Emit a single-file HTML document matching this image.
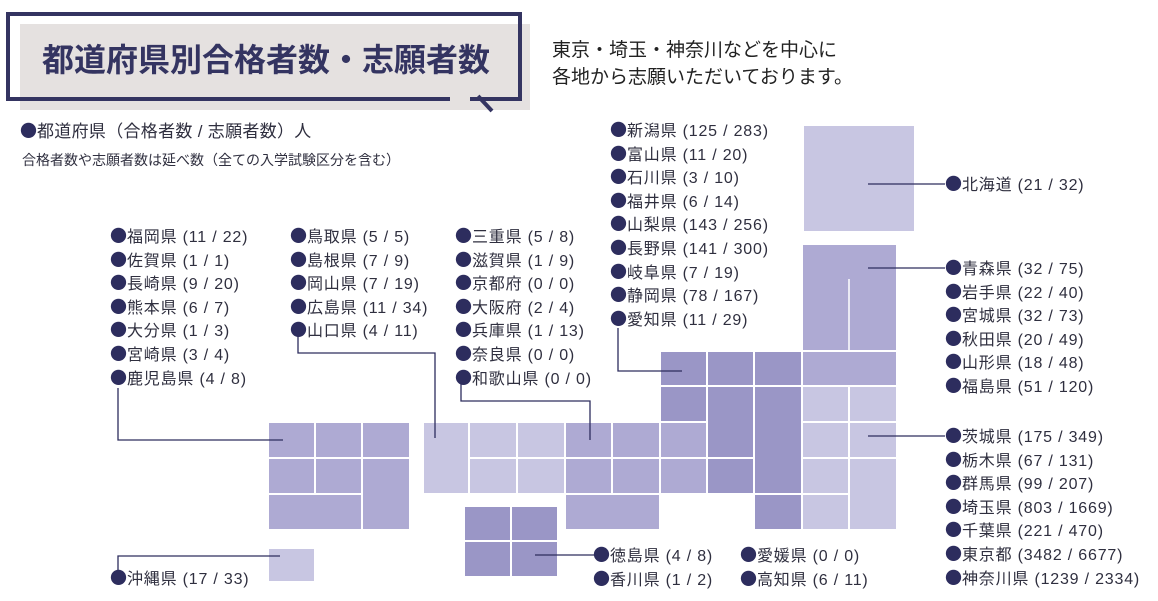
<!DOCTYPE html>
<html><head><meta charset="utf-8"><style>
html,body{margin:0;padding:0;background:#fff;}
body{width:1158px;height:601px;position:relative;overflow:hidden;font-family:"Liberation Sans","Noto Sans CJK JP",sans-serif;color:#2f2f3f;}
.t{position:absolute;white-space:nowrap;font-size:16px;line-height:20px;letter-spacing:0.8px;}
.t b{color:#2d2d5e;font-weight:normal;font-family:"Noto Sans CJK JP",sans-serif;font-size:17px;line-height:1px;margin-right:0px;letter-spacing:0;}
svg{position:absolute;left:0;top:0;}
</style></head><body>
<svg width="1158" height="601">
<rect x="20" y="24" width="510" height="86" fill="#e5e1e0"/>
<path d="M470,99 L520,99 L520,14 L8,14 L8,99 L450,99" fill="none" stroke="#343461" stroke-width="4"/>
<line x1="478" y1="96" x2="492" y2="111" stroke="#343461" stroke-width="4"/>
<g stroke="#fff" stroke-width="2">
<rect x="803" y="125" width="112" height="107" fill="#c8c6e2"/>
<g fill="#aeaad3">
<rect x="268" y="422" width="47" height="36"/><rect x="315" y="422" width="47" height="36"/><rect x="362" y="422" width="48" height="36"/>
<rect x="268" y="458" width="47" height="36"/><rect x="315" y="458" width="47" height="36"/><rect x="362" y="458" width="48" height="72"/>
<rect x="268" y="494" width="94" height="36"/>
</g>
<rect x="268" y="548" width="47" height="34" fill="#c8c6e2"/>
<g fill="#c8c6e2">
<rect x="423" y="422" width="46" height="72"/><rect x="469" y="422" width="48" height="36"/><rect x="517" y="422" width="48" height="36"/>
<rect x="469" y="458" width="48" height="36"/><rect x="517" y="458" width="48" height="36"/>
</g>
<g fill="#9a96c6">
<rect x="464" y="506" width="47" height="35"/><rect x="511" y="506" width="47" height="35"/>
<rect x="464" y="541" width="47" height="36"/><rect x="511" y="541" width="47" height="36"/>
</g>
<g fill="#aeaad3">
<rect x="565" y="422" width="47" height="36"/><rect x="612" y="422" width="48" height="36"/>
<rect x="565" y="458" width="47" height="36"/><rect x="612" y="458" width="48" height="36"/>
<rect x="565" y="494" width="95" height="36"/>
<rect x="660" y="422" width="47" height="36"/><rect x="660" y="458" width="47" height="36"/>
</g>
<g fill="#9a96c6">
<rect x="660" y="351" width="47" height="35"/><rect x="707" y="351" width="47" height="35"/><rect x="754" y="351" width="48" height="35"/>
<rect x="660" y="386" width="47" height="36"/>
<rect x="707" y="386" width="47" height="72"/><rect x="754" y="386" width="48" height="108"/>
<rect x="707" y="458" width="47" height="36"/>
<rect x="754" y="494" width="48" height="36"/>
</g>
<g fill="#aeaad3">
<rect x="802" y="244" width="95" height="107"/>
<rect x="802" y="351" width="95" height="35"/>
</g>
<g fill="#c8c6e2">
<rect x="802" y="386" width="47" height="36"/><rect x="849" y="386" width="48" height="36"/>
<rect x="802" y="422" width="47" height="36"/><rect x="849" y="422" width="48" height="36"/>
<rect x="802" y="458" width="47" height="36"/><rect x="849" y="458" width="48" height="72"/>
<rect x="802" y="494" width="47" height="36"/>
</g>
</g>
<line x1="849" y1="279" x2="849" y2="351" stroke="#fff" stroke-width="1.5"/>
<g fill="none" stroke="#2d2d5e" stroke-width="1.3">
<path d="M118,388 V440 H283"/>
<path d="M298,335 V353 H435 V438"/>
<path d="M461,383 V401 H590 V440"/>
<path d="M618,328 V371 H682"/>
<path d="M868,184 H945"/><path d="M868,268 H945"/><path d="M868,436 H945"/>
<path d="M535,555 H595"/>
<path d="M118,575 V556 H280"/>
</g>
</svg>
<div class="t" style="left:42px;top:38px;font-size:32px;line-height:44px;font-weight:bold;color:#343461;letter-spacing:0;">都道府県別合格者数・志願者数</div>
<div class="t" style="left:552px;top:37px;font-size:19px;line-height:27px;color:#222;letter-spacing:0;">東京・埼玉・神奈川などを中心に<br>各地から志願いただいております。</div>
<div class="t" style="left:20px;top:121px;font-size:17px;line-height:22px;letter-spacing:0.3px;"><b>●</b>都道府県（合格者数 / 志願者数）人</div>
<div class="t" style="left:22px;top:150px;font-size:14px;line-height:20px;letter-spacing:0;">合格者数や志願者数は延べ数（全ての入学試験区分を含む）</div>
<div class="t" style="left:110px;top:226px;line-height:23.6px;"><b>●</b>福岡県 (11 / 22)<br><b>●</b>佐賀県 (1 / 1)<br><b>●</b>長崎県 (9 / 20)<br><b>●</b>熊本県 (6 / 7)<br><b>●</b>大分県 (1 / 3)<br><b>●</b>宮崎県 (3 / 4)<br><b>●</b>鹿児島県 (4 / 8)</div>
<div class="t" style="left:290px;top:226px;line-height:23.6px;"><b>●</b>鳥取県 (5 / 5)<br><b>●</b>島根県 (7 / 9)<br><b>●</b>岡山県 (7 / 19)<br><b>●</b>広島県 (11 / 34)<br><b>●</b>山口県 (4 / 11)</div>
<div class="t" style="left:455px;top:226px;line-height:23.6px;"><b>●</b>三重県 (5 / 8)<br><b>●</b>滋賀県 (1 / 9)<br><b>●</b>京都府 (0 / 0)<br><b>●</b>大阪府 (2 / 4)<br><b>●</b>兵庫県 (1 / 13)<br><b>●</b>奈良県 (0 / 0)<br><b>●</b>和歌山県 (0 / 0)</div>
<div class="t" style="left:610px;top:120px;line-height:23.6px;"><b>●</b>新潟県 (125 / 283)<br><b>●</b>富山県 (11 / 20)<br><b>●</b>石川県 (3 / 10)<br><b>●</b>福井県 (6 / 14)<br><b>●</b>山梨県 (143 / 256)<br><b>●</b>長野県 (141 / 300)<br><b>●</b>岐阜県 (7 / 19)<br><b>●</b>静岡県 (78 / 167)<br><b>●</b>愛知県 (11 / 29)</div>
<div class="t" style="left:945px;top:174px;line-height:23.6px;"><b>●</b>北海道 (21 / 32)</div>
<div class="t" style="left:945px;top:258px;line-height:23.6px;"><b>●</b>青森県 (32 / 75)<br><b>●</b>岩手県 (22 / 40)<br><b>●</b>宮城県 (32 / 73)<br><b>●</b>秋田県 (20 / 49)<br><b>●</b>山形県 (18 / 48)<br><b>●</b>福島県 (51 / 120)</div>
<div class="t" style="left:945px;top:426px;line-height:23.6px;"><b>●</b>茨城県 (175 / 349)<br><b>●</b>栃木県 (67 / 131)<br><b>●</b>群馬県 (99 / 207)<br><b>●</b>埼玉県 (803 / 1669)<br><b>●</b>千葉県 (221 / 470)<br><b>●</b>東京都 (3482 / 6677)<br><b>●</b>神奈川県 (1239 / 2334)</div>
<div class="t" style="left:593px;top:545px;line-height:23.6px;"><b>●</b>徳島県 (4 / 8)<br><b>●</b>香川県 (1 / 2)</div>
<div class="t" style="left:740px;top:545px;line-height:23.6px;"><b>●</b>愛媛県 (0 / 0)<br><b>●</b>高知県 (6 / 11)</div>
<div class="t" style="left:110px;top:568px;line-height:23.6px;"><b>●</b>沖縄県 (17 / 33)</div>
</body></html>
